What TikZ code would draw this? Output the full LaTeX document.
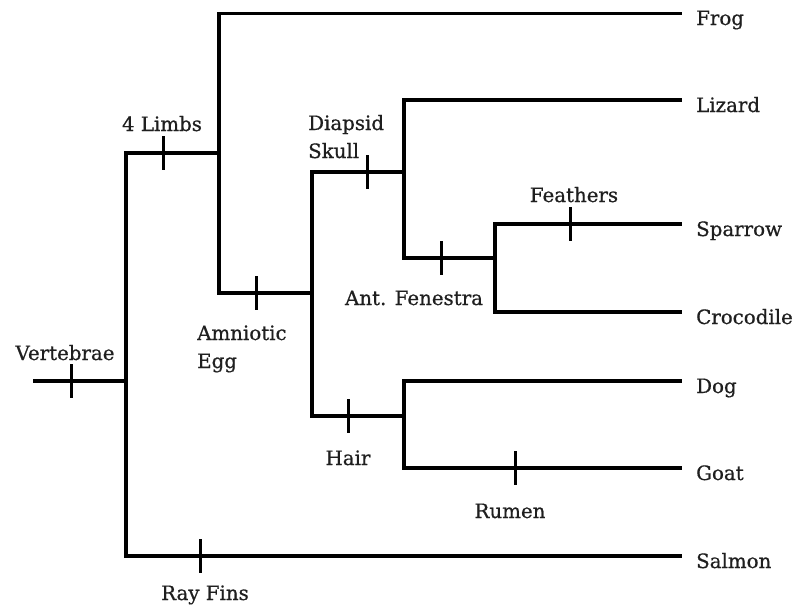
\documentclass[tikz,border=0pt]{standalone}
\usepackage{fontspec}
\setmainfont{DejaVu Serif}
\newfontfamily\lblfont[FakeBold=0.7]{DejaVu Serif}
\begin{document}
\begin{tikzpicture}[x=1pt,y=-1pt,
  branch/.style={line width=3.4pt, line join=miter, line cap=rect},
  tickmark/.style={line width=3pt},
  lbl/.style={inner sep=0pt, font=\lblfont\fontsize{19.8}{28}\selectfont, text=black!88},
  taxon/.style={lbl, anchor=base west},
  trait/.style={lbl, anchor=base},
  traitl/.style={lbl, anchor=base west, align=left}]
\useasboundingbox (0,0) rectangle (796,611);
% junctions
\coordinate (root) at (35,381);
\coordinate (vtop) at (126,153);
\coordinate (vmid) at (126,381);
\coordinate (vbot) at (126,556);
\coordinate (ftop) at (219,13.5);
\coordinate (fmid) at (219,153);
\coordinate (fbot) at (219,293);
\coordinate (atop) at (312,172);
\coordinate (amid) at (312,293);
\coordinate (abot) at (312,416);
\coordinate (dtop) at (404,100);
\coordinate (dmid) at (404,172);
\coordinate (dbot) at (404,258);
\coordinate (stop) at (495,224);
\coordinate (smid) at (495,258);
\coordinate (sbot) at (495,312);
\coordinate (htop) at (404,381);
\coordinate (hmid) at (404,416);
\coordinate (hbot) at (404,468);
% tips
\coordinate (eFrog) at (680,13.5);
\coordinate (eLizard) at (680,100);
\coordinate (eSparrow) at (680,224);
\coordinate (eCroc) at (680,312);
\coordinate (eDog) at (680,381);
\coordinate (eGoat) at (680,468);
\coordinate (eSalmon) at (680,556);
% branches
\draw[branch] (root) -- (vmid);
\draw[branch] (eSalmon) -- (vbot) -- (vtop) -- (fmid);
\draw[branch] (eFrog) -- (ftop) -- (fbot) -- (amid);
\draw[branch] (dmid) -- (atop) -- (abot) -- (hmid);
\draw[branch] (eLizard) -- (dtop) -- (dbot) -- (smid);
\draw[branch] (eSparrow) -- (stop) -- (sbot) -- (eCroc);
\draw[branch] (eDog) -- (htop) -- (hbot) -- (eGoat);
% ticks
\foreach \n/\p in {tVert/{71,381}, tLimb/{163,153}, tAmn/{256,293}, tDia/{367,172}, tAnt/{441,258}, tFea/{570,224}, tHair/{348,416}, tRum/{515,468}, tRay/{200,556}}{
  \coordinate (\n) at (\p);
  \draw[tickmark] ([yshift=17pt]\n) -- ([yshift=-17pt]\n);
}
% taxa
\node[taxon] (Frog) at (696,25) {Frog};
\node[taxon] (Lizard) at (696,112) {Lizard};
\node[taxon] (Sparrow) at (696,236) {Sparrow};
\node[taxon] (Crocodile) at (696,324) {Crocodile};
\node[taxon] (Dog) at (696,393) {Dog};
\node[taxon] (Goat) at (696,480) {Goat};
\node[taxon] (Salmon) at (696,568) {Salmon};
% traits
\node[trait] (lVert) at (65,360) {Vertebrae};
\node[trait] (lLimb) at (162,131) {4 Limbs};
\node[traitl] (lDia) at (308,158) {Diapsid\\Skull};
\node[trait] (lFea) at (574,202) {Feathers};
\node[trait] (lAnt) at (414,305) {Ant. Fenestra};
\node[traitl] (lAmn) at (197,368) {Amniotic\\Egg};
\node[trait] (lHair) at (348,465) {Hair};
\node[trait] (lRum) at (510,518) {Rumen};
\node[trait] (lRay) at (205,600) {Ray Fins};
\end{tikzpicture}
\end{document}
